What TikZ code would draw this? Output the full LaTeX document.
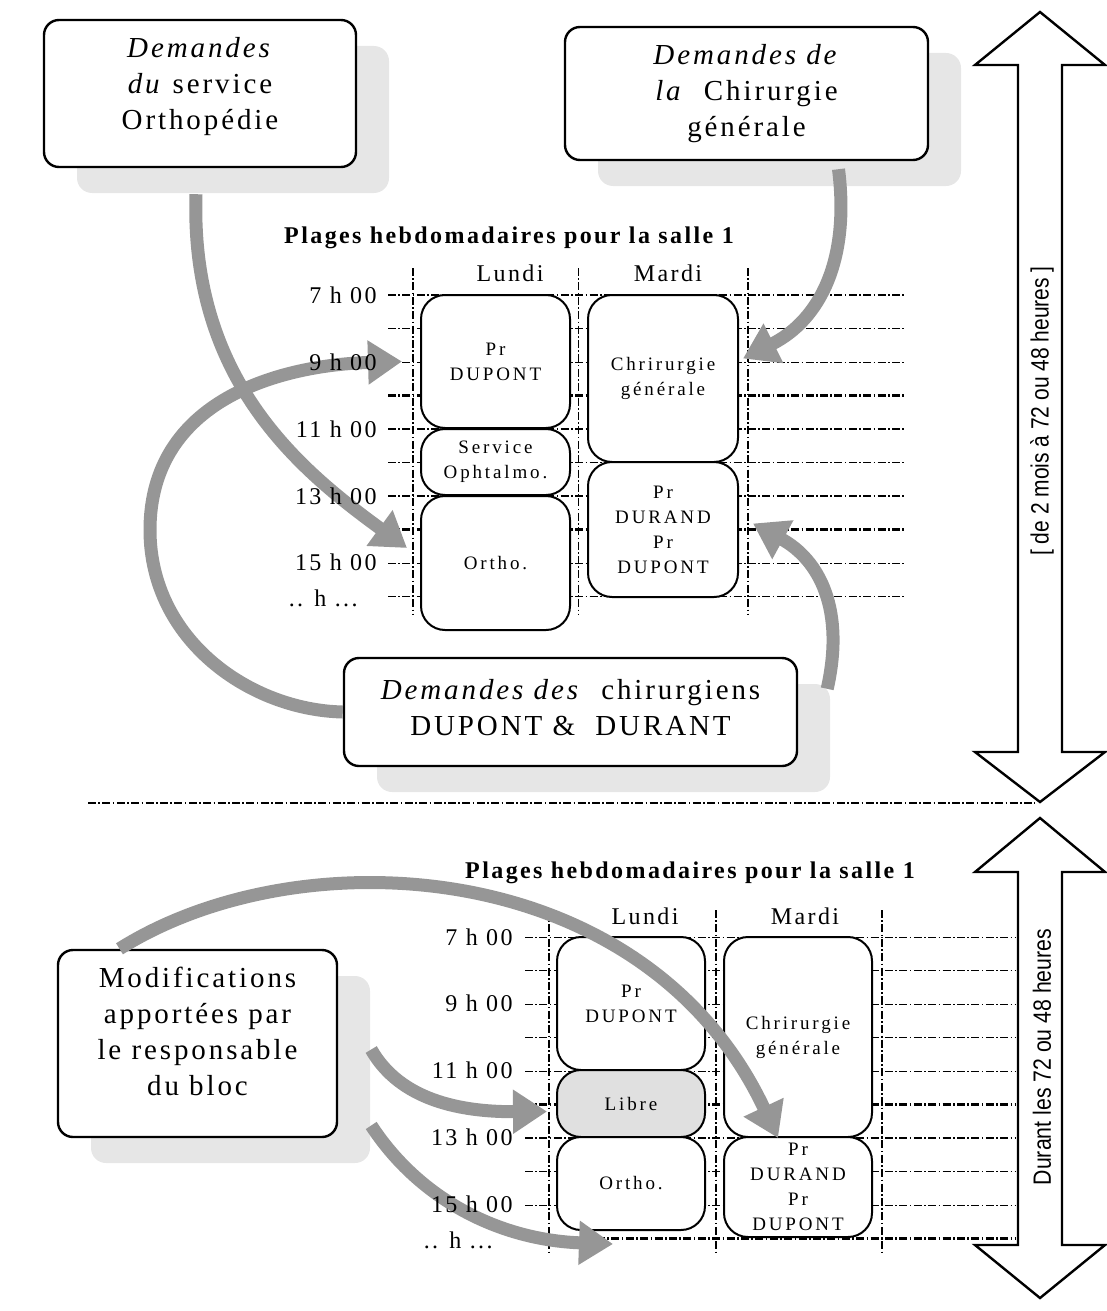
\documentclass[tikz,border=0pt]{standalone}
\usepackage{fontspec}
\usepackage{graphicx}
\setmainfont{Liberation Serif}[LetterSpace=10]
\newfontfamily\slotfont{Liberation Serif}[LetterSpace=15]
\newfontfamily\narrowsans{Liberation Sans}
\usetikzlibrary{arrows.meta,shadows}
\definecolor{flechegris}{RGB}{150,150,150}
\definecolor{ombregris}{RGB}{230,230,230}
\definecolor{libregris}{RGB}{224,224,224}
\tikzset{
  demande/.style={draw, line width=1.2pt, rounded corners=7.5pt, fill=white, align=center, inner sep=0pt,
    general shadow={fill=ombregris, shadow xshift=16.5pt, shadow yshift=-13pt},
    font=\fontsize{14.5}{18}\selectfont},
  creneau/.style={draw, line width=1pt, rounded corners=12pt, fill=white, align=center, inner sep=0pt,
    font=\slotfont\fontsize{9.5}{12.5}\selectfont},
  heure/.style={anchor=east, inner sep=0pt, font=\fontsize{12}{14}\selectfont},
  jour/.style={inner sep=0pt, font=\fontsize{12}{14}\selectfont},
  titre/.style={inner sep=0pt, font=\bfseries\fontsize{12}{14}\selectfont},
  grille/.style={line width=0.5pt, dash pattern=on 4pt off 1.2pt on 0.8pt off 1.2pt},
  flux/.style={flechegris, line width=6.5pt, -{Triangle[length=17pt,width=21pt]}},
  duree/.style={draw, line width=1.2pt, fill=white, line join=miter},
}
\begin{document}
\begin{tikzpicture}[x=0.5pt,y=-0.5pt]
	\useasboundingbox (0,0) rectangle (1107,1311);
	%
	% grille du haut
	\foreach \k/\lw in {0/1.2,1/0.5,2/0.5,3/1.2,4/1.2,5/0.5,6/1.2,7/1.2,8/0.5,9/0.5}
		\draw[grille, line width=\lw pt] (388,{295+33.5*\k}) -- (905,{295+33.5*\k});
	\draw[grille, line width=1.2pt] (413,268) -- (413,615);
	\draw[grille, line width=0.5pt] (578,268) -- (578,615);
	\draw[grille, line width=1.2pt] (748,268) -- (748,615);
	%
	\node[titre] (titreA) at (509,238) {Plages hebdomadaires pour la salle 1};
	\node[jour] (lundiA) at (510,273) {Lundi};
	\node[jour] (mardiA) at (668,273) {Mardi};
	%
	\node[creneau, minimum width=74.5pt, minimum height=66.5pt] (dupontA) at (495.5,361.5) {Pr\\DUPONT};
	\node[creneau, minimum width=74.5pt, minimum height=33pt] (ophtA) at (495.5,462) {Service\\Ophtalmo.};
	\node[creneau, minimum width=74.5pt, minimum height=67pt] (orthoA) at (495.5,563) {Ortho.};
	\node[creneau, minimum width=75pt, minimum height=83.5pt] (chirA) at (663,378.5) {Chrirurgie\\générale};
	\node[creneau, minimum width=75pt, minimum height=67.5pt] (durandA) at (663,529.5) {Pr\\DURAND\\Pr\\DUPONT};
	%
	% grille du bas
	\foreach \k/\lw in {0/0.5,1/0.5,2/0.5,3/0.5,4/0.5,5/1.2,6/1.2,7/0.5,8/0.5,9/1.2}
		\draw[grille, line width=\lw pt] (525,{937+33.5*\k}) -- (1015,{937+33.5*\k});
	\draw[grille, line width=0.9pt] (549,910) -- (549,1255);
	\draw[grille, line width=1.2pt] (716,910) -- (716,1255);
	\draw[grille, line width=0.6pt] (882,910) -- (882,1255);
	%
	\node[titre] (titreB) at (690,873) {Plages hebdomadaires pour la salle 1};
	\node[jour] (lundiB) at (645,916) {Lundi};
	\node[jour] (mardiB) at (805,916) {Mardi};
	%
	\node[creneau, minimum width=74pt, minimum height=66.5pt] (dupontB) at (631,1003.5) {Pr\\DUPONT};
	\node[creneau, minimum width=74pt, minimum height=33.5pt, fill=libregris] (libreB) at (631,1103.5) {Libre};
	\node[creneau, minimum width=74pt, minimum height=46.5pt] (orthoB) at (631,1183.5) {Ortho.};
	\node[creneau, minimum width=74pt, minimum height=100pt] (chirB) at (798,1037) {Chrirurgie\\générale};
	\node[creneau, minimum width=74pt, minimum height=50pt] (durandB) at (798,1187) {Pr\\DURAND\\Pr\\DUPONT};
	%
	% demandes
	\node[demande, minimum width=156pt, minimum height=73.5pt, text depth=10pt] (orth) at (200,93.5)
		{\textit{Demandes}\\\textit{du} service\\Orthopédie};
	\node[demande, minimum width=181.5pt, minimum height=66.5pt] (chirgen) at (746.5,93.5)
		{\textit{Demandes de}\\\textit{la}\ \ Chirurgie\\générale};
	\node[demande, minimum width=226.5pt, minimum height=54pt, text depth=5pt] (chirurg) at (570.5,712)
		{\textit{Demandes des}\ \ chirurgiens\\DUPONT \&\ \ DURANT};
	\node[demande, minimum width=139.5pt, minimum height=93.5pt, text depth=12pt] (modif) at (197.5,1043.5)
		{Modifications\\apportées par\\le responsable\\du bloc};
	%
	% separation
	\draw[grille, line width=1pt] (88,803) -- (1035,803);
	%
	% fleches grises
	\draw[flux] ([xshift=-2pt,yshift=-13pt]orth.south) .. controls (190,380) and (300,470) .. ([xshift=-6.5pt,yshift=7.5pt]orthoA.west);
	\draw[flux] ([xshift=46pt,yshift=-4pt]chirgen.south) .. controls (850,260) and (820,320) .. ([xshift=2pt,yshift=10pt]chirA.east);
	\draw[flux] (chirurg.west) .. controls (250,710) and (150,640) .. (150,530)
		.. controls (150,400) and (280,365) .. ([xshift=-9pt]dupontA.west);
	\draw[flux] ([xshift=14.5pt,yshift=-16pt]chirurg.north east) .. controls (845,610) and (820,560) .. ([xshift=7pt,yshift=3pt]durandA.east);
	\draw[flux] ([xshift=-39pt]modif.north) .. controls (300,835) and (645,855) .. ([xshift=-10pt]chirB.south);
	\draw[flux] ([xshift=16.5pt,yshift=-3pt]modif.east) .. controls (400,1100) and (460,1112) .. ([xshift=-4.5pt,yshift=-4pt]libreB.west);
	\draw[flux] ([xshift=16.5pt,yshift=-41pt]modif.east) .. controls (420,1200) and (500,1240) .. ([xshift=-9pt,yshift=-6.5pt]orthoB.south);
	%
	% heures
	\node[heure] (h7A) at (377,295) {7 h 00};
	\node[heure] (h9A) at (377,362) {9 h 00};
	\node[heure] (h11A) at (377,429) {11 h 00};
	\node[heure] (h13A) at (377,496) {13 h 00};
	\node[heure] (h15A) at (377,562) {15 h 00};
	\node[heure] (hxA) at (358,598) {.. h ...};
	\node[heure] (h7B) at (513,937) {7 h 00};
	\node[heure] (h9B) at (513,1003) {9 h 00};
	\node[heure] (h11B) at (513,1070) {11 h 00};
	\node[heure] (h13B) at (513,1137) {13 h 00};
	\node[heure] (h15B) at (513,1204) {15 h 00};
	\node[heure] (hxB) at (493,1240) {.. h ...};
	%
	% durees
	\draw[duree] (1040,12) -- (1105,65) -- (1062,65) -- (1062,752) -- (1105,752) -- (1040,802)
		-- (975,752) -- (1018,752) -- (1018,65) -- (975,65) -- cycle;
	\draw[duree] (1040,818) -- (1105,872) -- (1062,872) -- (1062,1245) -- (1105,1245) -- (1040,1298)
		-- (975,1245) -- (1018,1245) -- (1018,872) -- (975,872) -- cycle;
	\node[rotate=90, inner sep=0pt] (dureeA) at (1042,411)
		{\narrowsans\fontsize{12.5}{14}\selectfont\scalebox{0.84}[1]{[ de 2 mois à 72 ou 48 heures ]}};
	\node[rotate=90, inner sep=0pt] (dureeB) at (1042,1057)
		{\narrowsans\fontsize{12.5}{14}\selectfont\scalebox{0.85}[1]{Durant les 72 ou 48 heures}};
	%
\end{tikzpicture}
\end{document}
